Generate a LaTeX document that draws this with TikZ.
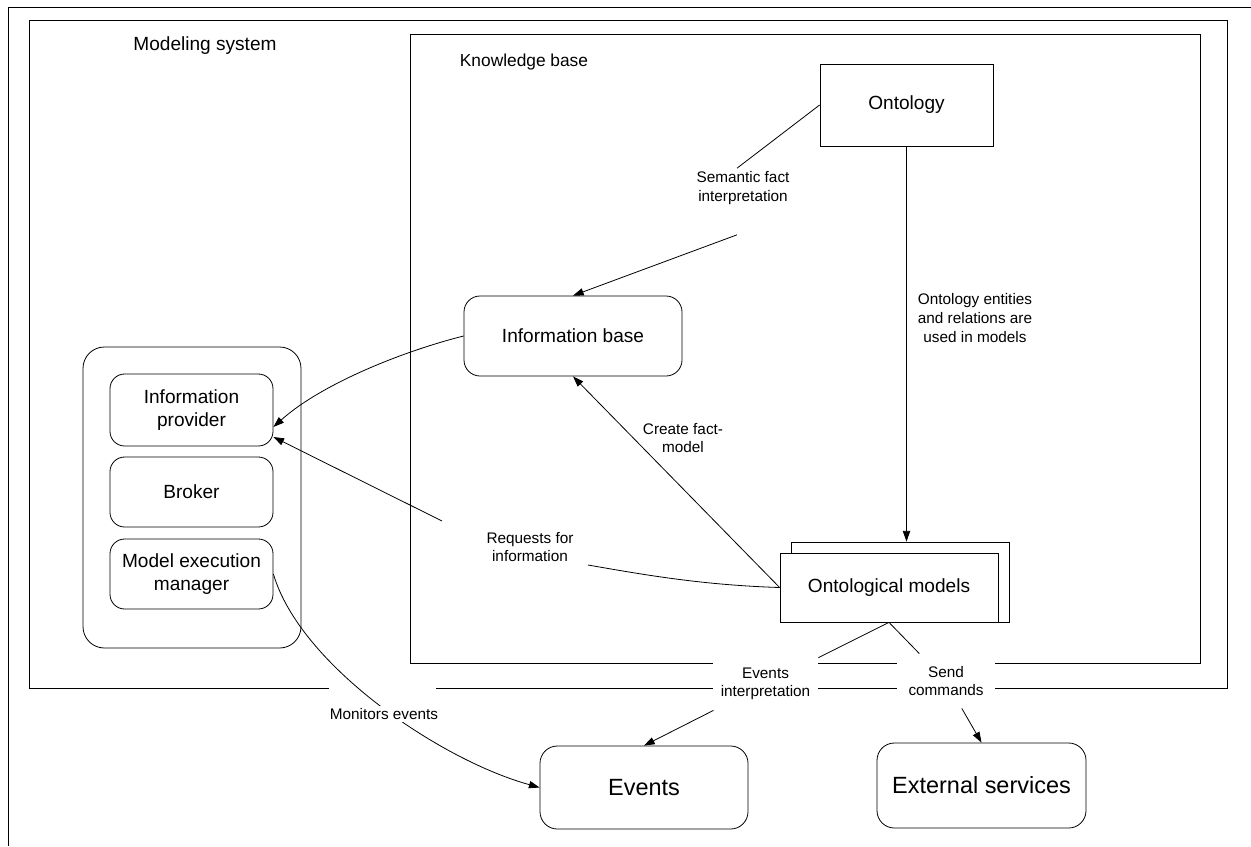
\documentclass[tikz,border=0pt]{standalone}
\usepackage{fontspec}
\setmainfont{Liberation Sans}
\usetikzlibrary{arrows.meta,calc}

\tikzset{
  shapebox/.style={draw, fill=white, inner sep=0pt, align=center, font=\fontsize{14.3}{17.3}\selectfont},
  roundbox/.style={shapebox, rounded corners=11pt},
  bigbox/.style={shapebox, rounded corners=13pt, font=\fontsize{17.6}{21}\selectfont},
  lbl/.style={inner sep=0pt, align=center, font=\fontsize{11.5}{13.9}\selectfont},
  masklbl/.style={lbl, fill=white},
  arr/.style={-{Triangle[length=8pt,width=5.5pt]}},
}

\begin{document}
\begin{tikzpicture}[x=0.75pt,y=0.75pt,yscale=-1,xscale=1,line width=0.6pt]
\useasboundingbox (0,0) rectangle (1251,846);

%Straight Lines [page frame]
\draw (1251,7) -- (8,7) -- (8,846) ;
%Shape: Rectangle [modeling system, open at the bottom]
\draw (329,688) -- (29,688) -- (29,20) -- (1227,20) -- (1227,688) -- (436,688) ;
%Shape: Rectangle [knowledge base]
\draw (410,34) rectangle (1200,663) ;

% Text Node
\node[font=\fontsize{14.3}{17}\selectfont] (mstitle) at (205,46) {Modeling system};
% Text Node
\node[font=\fontsize{13}{16}\selectfont] (kbtitle) at (524,62) {Knowledge base};

%Shape: Rectangle
\node[shapebox, minimum width=129.75pt, minimum height=61.5pt] (onto) at (906.5,105) {Ontology};
%Shape: Rounded Rect
\node[roundbox, rounded corners=12pt, minimum width=163.5pt, minimum height=60pt] (ib) at (573,336) {Information base};
%Shape: Rectangle [stacked]
\node[shapebox, minimum width=163.5pt, minimum height=60pt] (omback) at (900,582) {};
\node[shapebox, minimum width=163.5pt, minimum height=51.75pt] (om) at (889,587.5) {Ontological models};

%Shape: Rounded Rect [client side]
\node[shapebox, rounded corners=16pt, minimum width=163.5pt, minimum height=225.75pt] (agent) at (192,497.5) {};
\node[roundbox, minimum width=122.25pt, minimum height=54pt] (ip) at (191.5,410) {Information\\provider};
\node[roundbox, minimum width=122.25pt, minimum height=52.5pt] (broker) at (191.5,492) {Broker};
\node[roundbox, minimum width=122.25pt, minimum height=52.5pt] (mem) at (191.5,574) {Model execution\\manager};

%Shape: Rounded Rect [outside]
\node[bigbox, minimum width=156pt, minimum height=62.25pt] (evt) at (644,787.5) {Events};
\node[bigbox, minimum width=156.75pt, minimum height=63.75pt] (ext) at (981.5,785.5) {External services};

% Text Node
\node[lbl] (semlbl) at (743,188) {Semantic fact\\interpretation};
\coordinate (semin) at ($(semlbl.north)+(-6,-3)$);
\coordinate (semout) at ($(semlbl.south)+(-6,30)$);
% Text Node
\node[lbl] (oelbl) at (975,318) {Ontology entities\\and relations are\\used in models};
% Text Node
\node[lbl] (cflbl) at (683,438) {Create fact-\\model};
% Text Node
\node[lbl] (reqlbl) at (530,547) {Requests for\\information};
\coordinate (reqa) at ($(reqlbl)+(58,18)$);
\coordinate (reqb) at ($(reqlbl)+(-88,-26)$);
% Text Node
\node[masklbl, minimum width=78.75pt, minimum height=39pt] (evlbl) at (765.5,684) {Events\\interpretation};
% Text Node
\node[masklbl, minimum width=73.5pt, minimum height=40.5pt] (sclbl) at (946,681) {Send\\commands};

%Straight Lines
\draw (onto.west) -- (semin) ;
\draw[arr] (semout) -- (ib.north) ;
\draw[arr] (onto.south) -- (onto.south |- omback.north) ;
\draw[arr] (om.west) -- (ib.south) ;
\draw (om.south) -- (evlbl) ;
\draw[arr] (evlbl) -- (evt.north) ;
\draw (om.south) -- (sclbl) ;
\draw[arr] (sclbl) -- (ext.north) ;

%Curve Lines
\draw[arr] (ib.west) .. controls (400,352) and (320,385) .. ($(ip.east)+(0,17)$) ;
\draw (om.west) .. controls (700,585) and (640,574) .. (reqa) ;
\draw[arr] (reqb) -- ($(ip.east)+(0,27)$) ;
\draw[arr] (mem.east) .. controls (300,665) and (440,760) .. (evt.west) ;
% Text Node
\node[masklbl, inner sep=2pt] (monlbl) at (384,714) {Monitors events};

\end{tikzpicture}
\end{document}
